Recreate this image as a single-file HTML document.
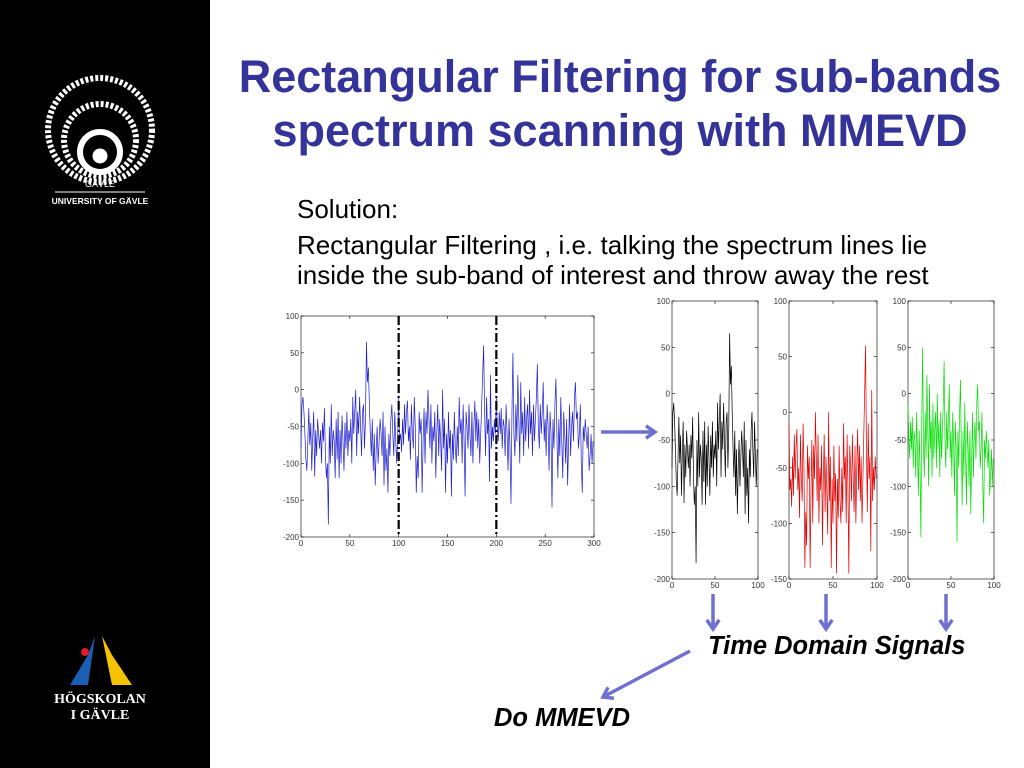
<!DOCTYPE html>
<html><head><meta charset="utf-8"><style>
body{margin:0;width:1024px;height:768px;overflow:hidden;background:#fff;font-family:"Liberation Sans",sans-serif;position:relative}
.side{position:absolute;left:0;top:0;width:210px;height:768px;background:#000}
.title{position:absolute;left:215px;width:810px;top:50px;text-align:center;color:#333399;font-weight:bold;font-size:45px;line-height:54px;white-space:nowrap}
.txt{position:absolute;left:297px;font-size:26px;color:#000;white-space:nowrap}
.lbl{position:absolute;font-size:25.5px;font-weight:bold;font-style:italic;color:#000;white-space:nowrap}
</style></head><body>
<div class="side"></div>
<svg style="position:absolute;left:0;top:0" width="210" height="768">
 <g fill="none" stroke="#fff">
  <circle cx="100" cy="130" r="52" stroke-width="6" stroke-dasharray="3 2"/>
  <circle cx="100" cy="140" r="36" stroke-width="6" stroke-dasharray="3 2"/>
  <circle cx="100" cy="152" r="20" stroke-width="6"/>
  <circle cx="100" cy="156" r="7" fill="#fff"/>
 </g>
 <text x="100" y="187" fill="#fff" font-size="9" text-anchor="middle" font-family="Liberation Sans">GÄVLE</text>
 <line x1="55" y1="192" x2="145" y2="192" stroke="#fff"/>
 <text x="100" y="204" fill="#fff" font-size="8.5" font-weight="bold" text-anchor="middle" font-family="Liberation Sans">UNIVERSITY OF GÄVLE</text>
 <g>
  <path d="M95 636 L88 655 L70 685 L88 685 Z" fill="#1a5fb4"/>
  <path d="M102 636 L112 655 L132 685 L112 685 Z" fill="#f5c400"/>
  <circle cx="85" cy="652" r="4" fill="#e01b24"/>
 </g>
 <text x="100" y="703" fill="#fff" font-size="14" font-weight="bold" text-anchor="middle" font-family="Liberation Serif">HÖGSKOLAN</text>
 <text x="100" y="719" fill="#fff" font-size="14" font-weight="bold" text-anchor="middle" font-family="Liberation Serif">I GÄVLE</text>
</svg>
<div class="title">Rectangular Filtering for sub-bands<br>spectrum scanning with MMEVD</div>
<div class="txt" style="top:194px">Solution:</div>
<div class="txt" style="top:230px;line-height:30px">Rectangular Filtering , i.e. talking the spectrum lines lie<br>inside the sub-band of interest and throw away the rest</div>
<div class="lbl" style="left:708px;top:632px">Time Domain Signals</div>
<div class="lbl" style="left:494px;top:704px">Do MMEVD</div>
<svg id="ch" style="position:absolute;left:0;top:0" width="1024" height="768"></svg>
<script>
const seg1=[-80,-20,-10,-30,-60,-95,-110,-70,-25,-75,-45,-110,-65,-30,-118,-55,-90,-40,-60,-80,-55,-100,-45,-70,-25,-90,-120,-100,-183,-50,-100,-20,-90,-55,-70,-120,-40,-95,-30,-120,-55,-100,-35,-70,-110,-45,-80,-30,-90,-55,-70,-40,-100,-10,-60,-30,0,-90,-30,-60,-10,-50,-90,-30,-20,-80,-40,65,10,30,-20,-60,-90,-40,-110,-60,-130,-80,-50,-100,-70,-40,-60,-90,-30,-130,-50,-110,-80,-140,-60,-90,-40,-20,-60,-90,-30,-70,-100,-60];
const seg2=[-10,-70,-60,-85,-40,-75,-20,-60,-30,-15,-70,-50,-95,-20,-60,-80,-10,-50,-140,-90,-120,-30,-60,-40,-140,-70,-25,-100,-30,-60,0,-40,-80,-20,-100,-50,-70,-30,-120,-60,-20,-90,-40,-70,-110,0,-80,-40,-140,-60,-100,-30,-80,-55,-145,-60,-95,-30,-80,-100,-50,-90,-10,-60,-40,-100,-20,-70,-145,-30,-50,-80,-20,-60,-90,-30,-100,-50,-15,-70,-30,-80,-40,-100,-60,-20,20,60,-30,-90,-10,-60,-40,-125,20,-80,-50,-70,-40,-60];
const seg3=[-10,-50,-70,-30,-60,-25,-80,-40,-50,-90,-20,-60,-110,-40,-80,-155,-30,50,-60,-90,-20,-70,20,-40,-100,10,-60,-30,-90,-10,-70,-40,-20,-80,0,-60,-30,-90,-20,-70,-40,-10,35,-50,-80,-20,-60,-30,10,-70,-40,-90,-20,-50,-110,-30,-60,-160,-40,-80,-20,15,-60,-120,-40,-90,-10,-70,-120,-30,-60,-100,-40,-130,-70,-20,-90,-50,-30,-70,-10,10,-40,-30,-80,-60,-20,-100,-140,-50,-70,-40,-60,-80,-50,-110,-90,-60,-100,-70];
const mainTicksY=[100,50,0,-50,-100,-150,-200];
const mainTicksX=[0,50,100,150,200,250,300];
const smallTicksX=[0,50,100];
const redTicksY=[100,50,0,-50,-100,-150];
const cutoffs=[100,200];
const NS='http://www.w3.org/2000/svg';
const svg=document.getElementById('ch');
function el(t,a,p){const e=document.createElementNS(NS,t);for(const k in a)e.setAttribute(k,a[k]);(p||svg).appendChild(e);return e;}
function chart(name,L,R,T,B,data,xmin,xmax,ymin,ymax,xt,yt,color){
 const g=el('g',{});
 
 
 const sx=v=>L+(v-xmin)/(xmax-xmin)*(R-L), sy=v=>B-(v-ymin)/(ymax-ymin)*(B-T);
 el('rect',{x:L,y:T,width:R-L,height:B-T,fill:'#fff',stroke:'#000','stroke-width':0.6},g);
 xt.forEach(v=>{const x=sx(v);el('line',{x1:x,y1:B,x2:x,y2:B-3,stroke:'#000','stroke-width':0.6},g);el('line',{x1:x,y1:T,x2:x,y2:T+3,stroke:'#000','stroke-width':0.6},g);
  const t=el('text',{x:x,y:B+9,'font-size':8,'text-anchor':'middle',fill:'#333'},g);t.textContent=v;});
 yt.forEach(v=>{const y=sy(v);el('line',{x1:L,y1:y,x2:L+3,y2:y,stroke:'#000','stroke-width':0.6},g);el('line',{x1:R,y1:y,x2:R-3,y2:y,stroke:'#000','stroke-width':0.6},g);
  const t=el('text',{x:L-2,y:y+3,'font-size':8,'text-anchor':'end',fill:'#333'},g);t.textContent=v;});
 const pts=data.map((v,i)=>sx(i)+','+sy(v)).join(' ');
 const pl=el('polyline',{points:pts,fill:'none',stroke:color,'stroke-width':0.7},g);
 
 
 return {g,sx,sy};
}
const all=seg1.concat(seg2,seg3);
const m=chart('main-spectrum-chart',301,594,316,537,all,0,all.length,-200,100,mainTicksX,mainTicksY,'#2020d0');
cutoffs.forEach(c=>{const l=el('line',{x1:m.sx(c),y1:316,x2:m.sx(c),y2:537,stroke:'#000','stroke-width':2.2,'stroke-dasharray':'9 3 2 3'},m.g);
 
 });
chart('black-subband-chart',672,758,301,579,seg1,0,seg1.length,-200,100,smallTicksX,mainTicksY,'#000');
chart('red-subband-chart',789,877,301,579,seg2,0,seg2.length,-150,100,smallTicksX,redTicksY,'#e00000');
chart('green-subband-chart',908,994,301,579,seg3,0,seg3.length,-200,100,smallTicksX,mainTicksY,'#00dd00');
const ac='#7070d0';
function arrow(name,x1,y1,x2,y2){const g=el('g',{});
 
 
 el('line',{x1,y1,x2,y2,stroke:ac,'stroke-width':3.5},g);
 const a=Math.atan2(y2-y1,x2-x1),s=11;
 const p=[[x2-s*Math.cos(a-0.6),y2-s*Math.sin(a-0.6)],[x2,y2],[x2-s*Math.cos(a+0.6),y2-s*Math.sin(a+0.6)]];
 el('polyline',{points:p.map(q=>q.join(',')).join(' '),fill:'none',stroke:ac,'stroke-width':3.5},g);}
arrow('arrow-to-subbands',601,432,655,432);
arrow('arrow-down-black',713,594,713,629);
arrow('arrow-down-red',826,594,826,629);
arrow('arrow-down-green',946,594,946,629);
arrow('arrow-to-mmevd',690,651,603,697);
</script>
</body></html>
